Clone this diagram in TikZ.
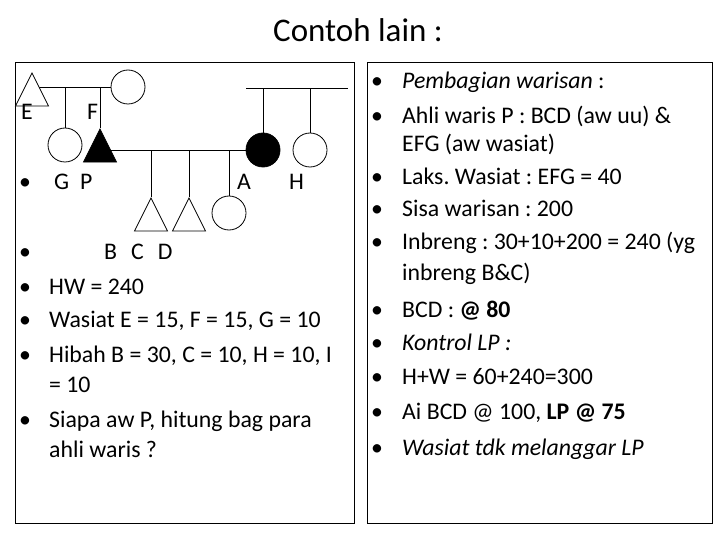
\documentclass[tikz,border=0pt]{standalone}
\usepackage{fontspec}
\setmainfont{Carlito}
\usetikzlibrary{shapes.geometric,backgrounds}
\frenchspacing
\tikzset{
  man/.style={isosceles triangle,isosceles triangle stretches,
              shape border rotate=90,draw,fill=white,line width=0.8pt,
              minimum width=33pt,minimum height=33pt,inner sep=0pt,
              anchor=apex},
  woman/.style={circle,draw,fill=white,line width=0.8pt,
                minimum size=34pt,inner sep=0pt},
  dead/.style={fill=black},
  lnk/.style={line width=0.8pt},
  frm/.style={rectangle,draw,line width=1pt,inner sep=0pt,anchor=north west},
  txt/.style={anchor=base west,inner sep=0pt,font=\fontsize{23.8}{28}\selectfont},
  blt/.style={anchor=base,inner sep=0pt,font=\fontsize{23.8}{28}\selectfont},
}

\begin{document}
\begin{tikzpicture}[x=1pt,y=-1pt]
  \useasboundingbox (0,0) rectangle (720,540);

  \node[anchor=base,inner sep=0pt,font=\fontsize{33}{40}\selectfont]
    (ttl) at (358,42) {Contoh lain :};

  \node[frm,minimum width=339pt,minimum height=461pt] (lbox) at (15,62) {};
  \node[frm,minimum width=345pt,minimum height=461pt] (rbox) at (367,62) {};

  % pedigree
  \node[man] (E) at (32,72) {};
  \node[woman] (F) at (128,87) {};
  \node[woman] (G) at (65,145) {};
  \node[man,dead] (P) at (100,128) {};
  \node[woman,dead] (A) at (263,150) {};
  \node[woman] (H) at (310,150) {};
  \node[man] (B) at (151,197) {};
  \node[man] (C) at (189,197) {};
  \node[woman] (D) at (229,213) {};
  \coordinate (tl) at (246,88);
  \coordinate (tr) at (348,88);

  \begin{scope}[on background layer]
    \draw[lnk] (F -| E.apex) -- (F);
    \draw[lnk] (G) -- (G |- F);
    \draw[lnk] (P.apex) -- (P.apex |- F);
    \draw[lnk] (A -| P.apex) -- (A);
    \draw[lnk] (B.apex) -- (B.apex |- A);
    \draw[lnk] (C.apex) -- (C.apex |- A);
    \draw[lnk] (D) -- (D |- A);
    \draw[lnk] (tl) -- (tr);
    \draw[lnk] (A) -- (A |- tl);
    \draw[lnk] (H) -- (H |- tl);
  \end{scope}

  \node[txt] (lE) at (21,120) {E};
  \node[txt] (lF) at (87,120) {F};
  \node[txt] (lA) at (237,190) {A};
  \node[txt] (lH) at (289,190) {H};

  % left column
  \foreach \y [count=\i] in {190,259,294,327,362,427}
    \node[blt] (lb\i) at (25,\y) {\textbullet};
  \node[txt] (gp) at (54,190) {G\hspace{11pt}P};
  \node[txt] (bcd) at (104,259) {B\hspace{14pt}C\hspace{14pt}D};
  \node[txt] (hw) at (49,294) {HW = 240};
  \node[txt] (was) at (49,327) {Wasiat E = 15, F = 15, G = 10};
  \node[txt] (hib) at (49,362) {Hibah B = 30, C = 10, H = 10, I};
  \node[txt] (hib2) at (49,392) {= 10};
  \node[txt] (sia) at (49,427) {Siapa aw P, hitung bag para};
  \node[txt] (sia2) at (49,457) {ahli waris ?};

  % right column
  \foreach \y [count=\i] in {89,124,185,217,249,317,350,384,419,455}
    \node[blt] (rb\i) at (377,\y) {\textbullet};
  \node[txt] (r1) at (402,89) {\textit{Pembagian warisan} :};
  \node[txt] (r2) at (402,124) {Ahli waris P : BCD (aw uu) \&};
  \node[txt] (r2b) at (402,152) {EFG (aw wasiat)};
  \node[txt] (r3) at (402,185) {Laks. Wasiat : EFG = 40};
  \node[txt] (r4) at (402,217) {Sisa warisan : 200};
  \node[txt] (r5) at (402,249) {Inbreng : 30+10+200 = 240 (yg};
  \node[txt] (r5b) at (402,280) {inbreng B\&C)};
  \node[txt] (r6) at (402,317) {BCD : \textbf{@ 80}};
  \node[txt] (r7) at (402,350) {\textit{Kontrol LP :}};
  \node[txt] (r8) at (402,384) {H+W = 60+240=300};
  \node[txt] (r9) at (402,419) {Ai BCD @ 100, \textbf{LP @ 75}};
  \node[txt] (r10) at (402,455) {\textit{Wasiat tdk melanggar LP}};
\end{tikzpicture}
\end{document}
